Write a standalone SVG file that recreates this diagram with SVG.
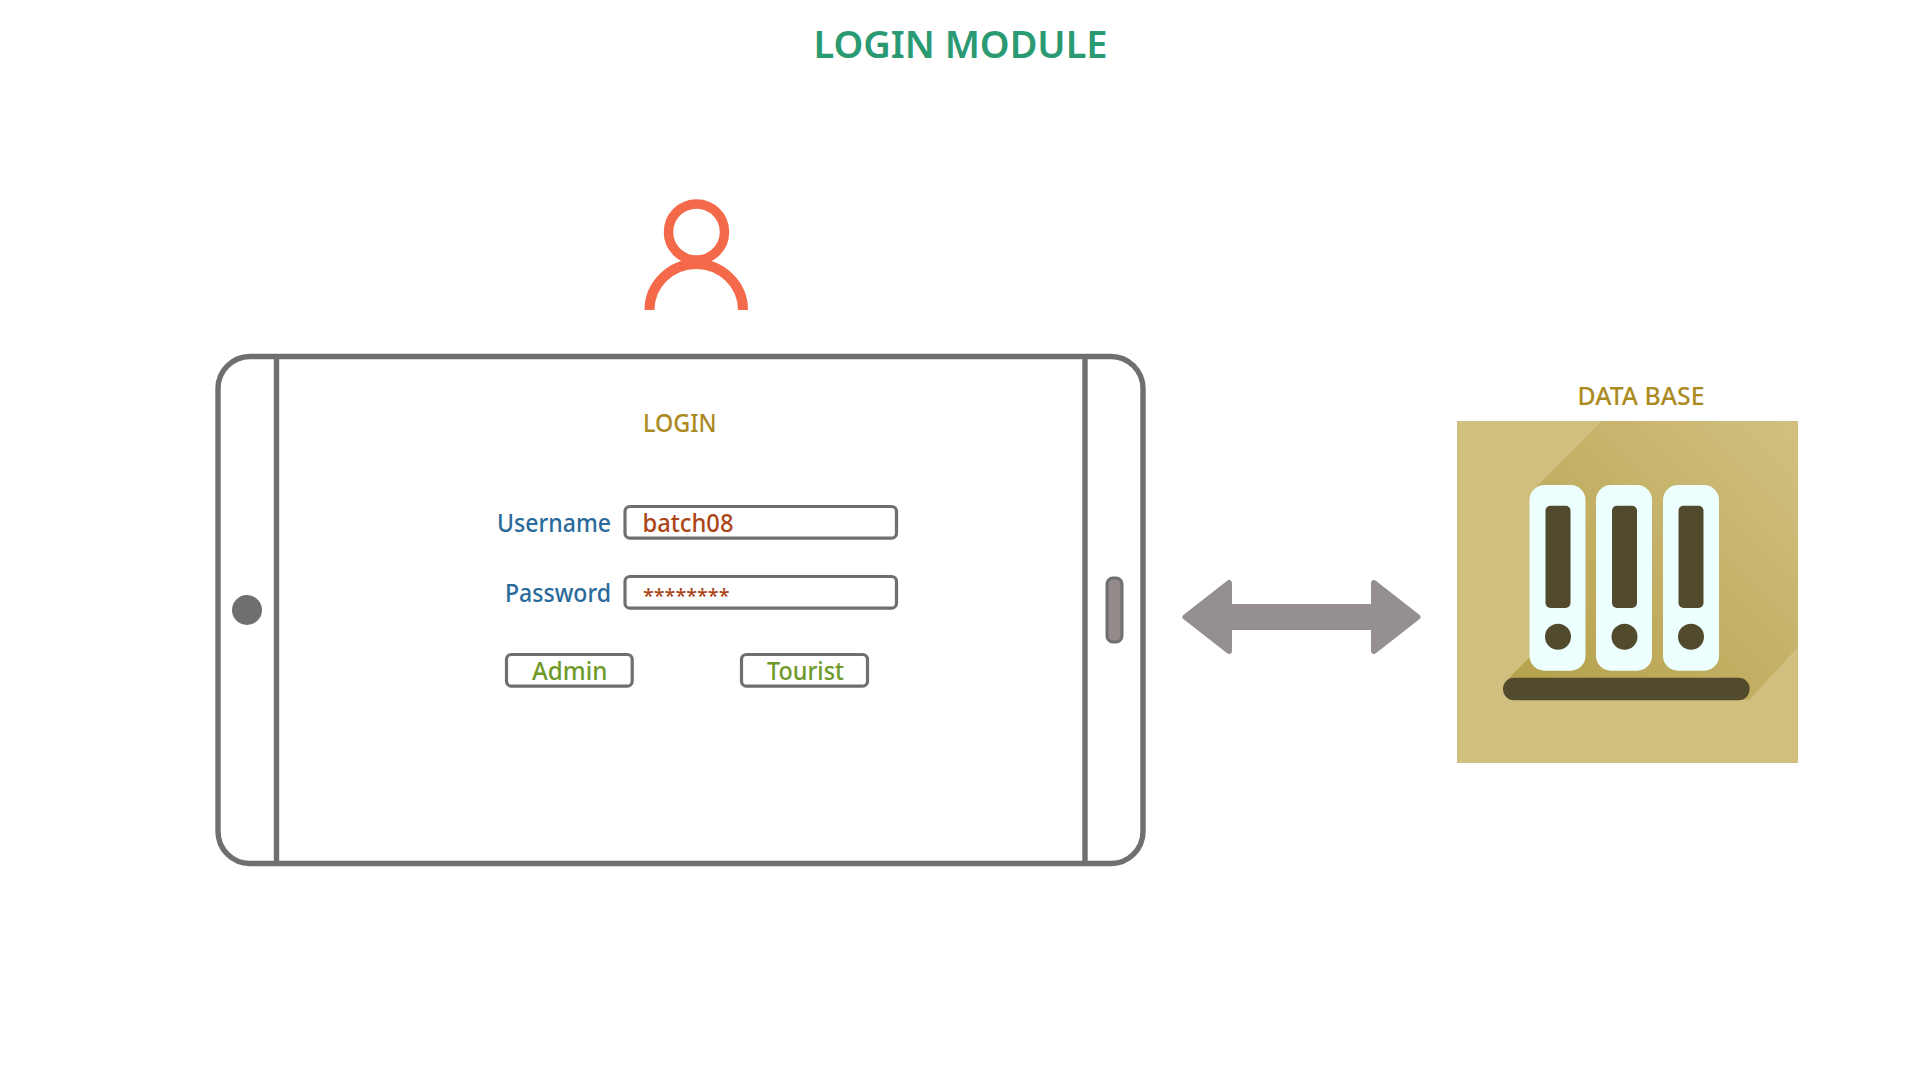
<svg xmlns="http://www.w3.org/2000/svg" width="1920" height="1080" viewBox="0 0 1920 1080">
<style>
text{font-family:"Noto Sans","Open Sans","Liberation Sans",sans-serif;font-weight:500}
.frame{fill:none;stroke:#6f6f6f;stroke-width:5.4}
.box{fill:#fff;stroke:#6f6f6f;stroke-width:3.2}
.lbl{font-size:25.5px;fill:#2a6a9a;text-anchor:end}
.val{font-size:25.5px;fill:#ab4518}
.btn{font-size:25.5px;fill:#6f9a2a}
.head{font-size:24.5px;fill:#ab8a1f}
.binder{fill:#eeffff}
.dark{fill:#524a2c}
</style>
<defs>
<linearGradient id="shade" gradientUnits="userSpaceOnUse" x1="1530" y1="690" x2="1790" y2="430">
<stop offset="0" stop-color="#b5a24c"/><stop offset="1" stop-color="#d1bf7f"/>
</linearGradient>
</defs>
<rect width="1920" height="1080" fill="#fff"/>
<g id="title"><text x="813.5" y="58.3" font-size="38.5" style="font-weight:600" fill="#2a9a72" textLength="294" lengthAdjust="spacingAndGlyphs">LOGIN MODULE</text></g>
<g id="user">
<circle cx="696.5" cy="232" r="28" fill="none" stroke="#f4694a" stroke-width="9.5"/>
<path d="M649.5 310A46.7 46 0 0 1 743 310" fill="none" stroke="#f4694a" stroke-width="10"/>
</g>
<g id="device">
<rect class="frame" x="218" y="356.5" width="925" height="507" rx="32"/>
<path class="frame" d="M276.5 356.5V863.5M1085 356.5V863.5"/>
<circle cx="247" cy="610" r="15" fill="#6f6f6f"/>
<rect x="1107" y="578" width="15" height="64" rx="6" fill="#938a8a" stroke="#6f6f6f" stroke-width="3"/>
<text class="head" x="643" y="432" textLength="73.5" lengthAdjust="spacingAndGlyphs">LOGIN</text>
</g>
<g id="username">
<text class="lbl" x="611" y="531.7" textLength="114" lengthAdjust="spacingAndGlyphs">Username</text>
<rect class="box" x="625" y="506.5" width="271.5" height="31.7" rx="5"/>
<text class="val" x="642.5" y="531.7" textLength="91" lengthAdjust="spacingAndGlyphs">batch08</text>
</g>
<g id="password">
<text class="lbl" x="611" y="601.7" textLength="106" lengthAdjust="spacingAndGlyphs">Password</text>
<rect class="box" x="625" y="576.5" width="271.5" height="31.7" rx="5"/>
<text x="643" y="603" font-size="20" fill="#ab4518" textLength="86.5" lengthAdjust="spacingAndGlyphs">********</text>
</g>
<g id="admin">
<rect class="box" x="506.5" y="654.5" width="125.7" height="31.7" rx="5"/>
<text class="btn" x="532" y="680" textLength="75.5" lengthAdjust="spacingAndGlyphs">Admin</text>
</g>
<g id="tourist">
<rect class="box" x="741.5" y="654.5" width="126" height="31.7" rx="5"/>
<text class="btn" x="767" y="680" textLength="77" lengthAdjust="spacingAndGlyphs">Tourist</text>
</g>
<g id="connectors">
<path d="M1185.5 617L1229 583V607H1374V583L1417.5 617L1374 651V627H1229V651Z" fill="#968f8f" stroke="#968f8f" stroke-width="6" stroke-linejoin="round"/>
</g>
<g id="database">
<text class="head" x="1577.5" y="404.7" textLength="127" lengthAdjust="spacingAndGlyphs">DATA BASE</text>
<rect x="1457" y="421" width="341" height="342" fill="#d1bf7f"/>
<path d="M1602 421H1798V647L1749 700H1509V678L1535 652V488Z" fill="url(#shade)"/>
<rect class="binder" x="1529.5" y="485" width="56" height="185.7" rx="15"/>
<rect class="binder" x="1596" y="485" width="56" height="185.7" rx="15"/>
<rect class="binder" x="1663" y="485" width="56" height="185.7" rx="15"/>
<rect class="dark" x="1545.5" y="505.7" width="25" height="102.3" rx="5"/>
<rect class="dark" x="1612" y="505.7" width="25" height="102.3" rx="5"/>
<rect class="dark" x="1678.5" y="505.7" width="25" height="102.3" rx="5"/>
<circle class="dark" cx="1558" cy="636.7" r="13"/>
<circle class="dark" cx="1624.5" cy="636.7" r="13"/>
<circle class="dark" cx="1691" cy="636.7" r="13"/>
<rect class="dark" x="1503" y="677.7" width="246.6" height="22.6" rx="11"/>
</g>
</svg>
